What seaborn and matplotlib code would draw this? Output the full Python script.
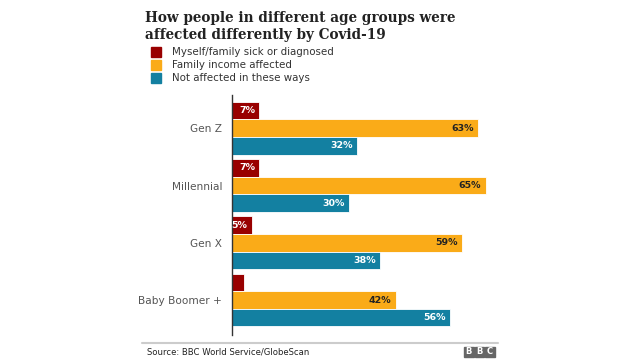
import matplotlib
matplotlib.use("Agg")
import matplotlib.pyplot as plt
import seaborn as sns
import pandas as pd
from matplotlib.patches import Rectangle

groups = ["Gen Z", "Millennial", "Gen X", "Baby Boomer +"]
series = ["Myself/family sick or diagnosed", "Family income affected", "Not affected in these ways"]
sick = [7, 7, 5, 3]
income = [63, 65, 59, 42]
not_affected = [32, 30, 38, 56]
sick_labels = ["7%", "7%", "5%", ""]
colors = ["#990000", "#FAAB18", "#1380A1"]
label_colors = ["white", "#222222", "white"]

rows = []
for i, g in enumerate(groups):
    for s, vals in zip(series, [sick, income, not_affected]):
        rows.append({"group": g, "series": s, "value": vals[i]})
df = pd.DataFrame(rows)

sns.set_theme(style="white")
plt.rcParams["font.family"] = ["DejaVu Sans"]

fig = plt.figure(figsize=(6.4, 3.6), dpi=100)
ax = fig.add_axes([232/640, 1-335/360, 257.4/640, 240/360])
sns.barplot(data=df, x="value", y="group", hue="series", orient="h",
            palette=colors, width=0.92, ax=ax, legend=False,
            edgecolor="white", linewidth=0.6, saturation=1)
ax.set_xlim(0, 66)
ax.set_ylim(3.61, -0.58)
ax.set_xlabel("")
ax.set_ylabel("")
ax.set_xticks([])
for sp in ["top", "right", "bottom"]:
    ax.spines[sp].set_visible(False)
ax.spines["left"].set_color("#333333")
ax.spines["left"].set_linewidth(1.0)
ax.tick_params(axis="y", length=0, pad=7, labelsize=7.6, labelcolor="#555555")

# value labels
all_vals = [sick, income, not_affected]
for k, cont in enumerate(ax.containers):
    labs = []
    for i, v in enumerate(all_vals[k]):
        if k == 0:
            labs.append(sick_labels[i])
        else:
            labs.append(f"{v}%")
    texts = ax.bar_label(cont, labels=labs, label_type="edge", padding=-3,
                         color=label_colors[k], fontsize=6.8, fontweight="bold")
    for t in texts:
        t.set_ha("right")
        t.set_clip_on(False)

# title
fig.text(145/640, 1-22/360, "How people in different age groups were",
         family="DejaVu Serif", fontweight="bold", fontsize=9.8, color="#222222",
         va="baseline", ha="left")
fig.text(145/640, 1-39/360, "affected differently by Covid-19",
         family="DejaVu Serif", fontweight="bold", fontsize=9.8, color="#222222",
         va="baseline", ha="left")

# legend
for j, (s, c) in enumerate(zip(series, colors)):
    y = 52 + j * 13
    fig.patches.append(Rectangle((151/640, 1-(y+5)/360), 10/640, 10/360,
                                 transform=fig.transFigure, color=c, figure=fig))
    fig.text(172/640, 1-y/360, s, fontsize=7.4, color="#333333", va="center", ha="left")

# footer
fig.add_artist(plt.Line2D([142/640, 498/640], [1-343/360, 1-343/360],
                          transform=fig.transFigure, color="#cccccc", lw=1.5))
fig.text(147/640, 1-352/360, "Source: BBC World Service/GlobeScan", fontsize=6.1,
         color="#222222", va="center", ha="left")
for j, letter in enumerate("BBC"):
    x0 = 464 + j * 10.5
    fig.patches.append(Rectangle((x0/640, 1-357/360), 9.5/640, 10/360,
                                 transform=fig.transFigure, color="#666666", figure=fig))
    fig.text((x0+4.75)/640, 1-352/360, letter, fontsize=6, fontweight="bold",
             color="white", ha="center", va="center")

fig.savefig("out.png", dpi=100)
